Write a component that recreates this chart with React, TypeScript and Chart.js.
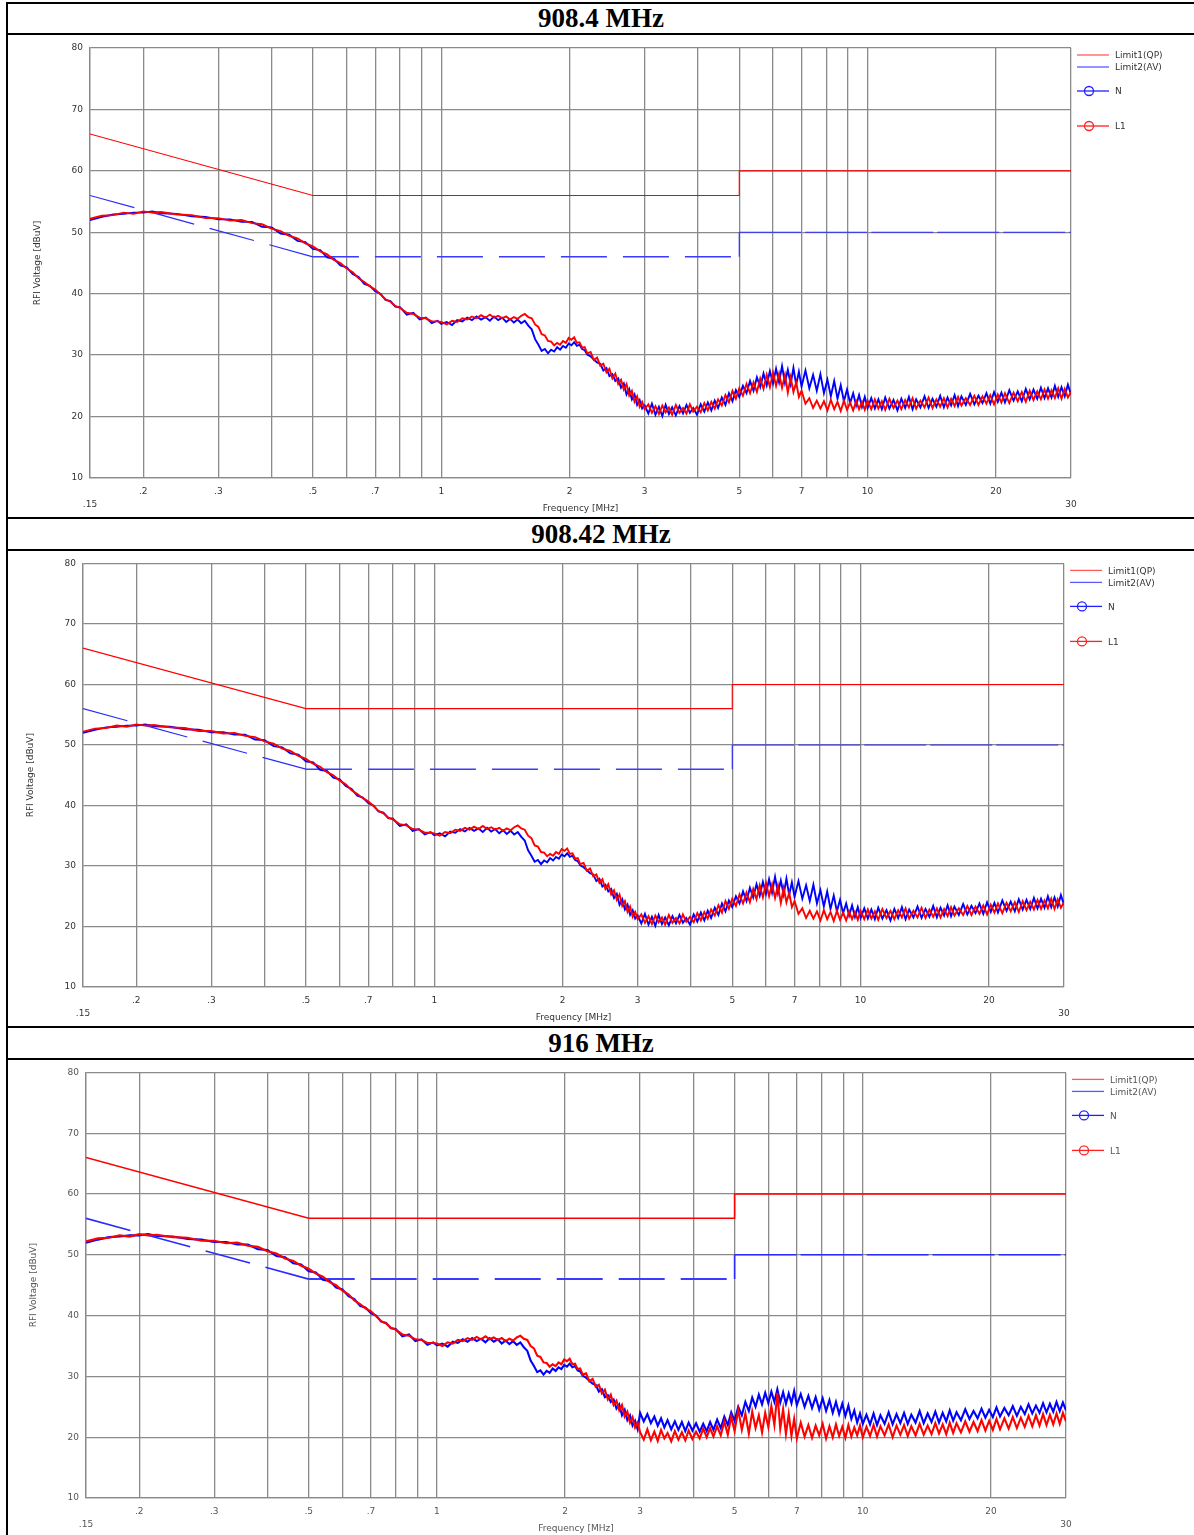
import React, { useEffect, useRef } from "react";
import { Chart, registerables } from "chart.js";
Chart.register(...registerables);

// ---------------- DATA ----------------
const titles = ["908.4 MHz", "908.42 MHz", "916 MHz"];
const legendLabels = ["Limit1(QP)", "Limit2(AV)", "N", "L1"];
const xAxisTitle = "Frequency [MHz]";
const yAxisTitle = "RFI Voltage [dBuV]";

const xTickValues = [0.15, 0.2, 0.3, 0.4, 0.5, 0.6, 0.7, 0.8, 0.9, 1, 2, 3, 4, 5, 6, 7, 8, 9, 10, 20, 30];
const xMainLabelValues = [0.2, 0.3, 0.5, 0.7, 1, 2, 3, 5, 7, 10, 20];
const xMainLabelTexts = [".2", ".3", ".5", ".7", "1", "2", "3", "5", "7", "10", "20"];
const xEndLabelValues = [0.15, 30];
const xEndLabelTexts = [".15", "30"];
const yMin = 10;
const yMax = 80;
const yStep = 10;

// limit lines
const qpFreq = [0.15, 0.5, 5, 5, 30];
const qpLevel = [66, 56, 56, 60, 60];
const avSlopeFreq = [0.15, 0.5];
const avSlopeLevel = [56, 46];
const avFlatFreq = [0.5, 5];
const avFlatLevel = [46, 46];
const avStepFreq = [5, 5];
const avStepLevel = [46, 50];
const avHighFreq = [5, 30];
const avHighLevel = [50, 50];

// measurement frequencies (MHz)
const freqLow = [
  0.15, 0.16, 0.17, 0.18, 0.19, 0.2, 0.21, 0.22, 0.24, 0.26, 0.28, 0.3, 0.32, 0.34, 0.36, 0.38, 0.4, 0.42, 0.44, 0.46, 0.48, 0.5,
  0.52, 0.54, 0.56, 0.58, 0.6, 0.62, 0.64, 0.66, 0.68, 0.7, 0.72, 0.74, 0.76, 0.78, 0.8, 0.83, 0.86, 0.89, 0.92, 0.95, 0.98,
  1, 1.03, 1.06, 1.09, 1.12, 1.15, 1.18, 1.21, 1.24, 1.27, 1.3, 1.33, 1.36, 1.39, 1.42, 1.45, 1.48, 1.51, 1.54, 1.57,
  1.6, 1.63, 1.66, 1.69, 1.72, 1.75, 1.78, 1.81, 1.84, 1.87, 1.9, 1.93, 1.96, 1.99, 2.02, 2.05, 2.08, 2.11, 2.14, 2.17,
  2.2, 2.24, 2.28, 2.32, 2.36, 2.4, 2.44, 2.48, 2.52, 2.56, 2.6, 2.64, 2.68, 2.72, 2.76, 2.8, 2.84, 2.88, 2.92, 2.96,
];
const freqHigh = [
  3, 3.06, 3.12, 3.18, 3.24, 3.3, 3.36, 3.42, 3.48, 3.55, 3.62, 3.69, 3.76, 3.83, 3.9, 3.98, 4.06, 4.14, 4.22, 4.3,
  4.38, 4.46, 4.55, 4.64, 4.73, 4.82, 4.91, 5, 5.1, 5.2, 5.3, 5.4, 5.5, 5.6, 5.7, 5.8, 5.9, 6,
  6.1, 6.2, 6.3, 6.4, 6.5, 6.6, 6.7, 6.8, 6.9, 7, 7.15, 7.3, 7.45, 7.6, 7.75, 7.9, 8.05, 8.2, 8.35, 8.5,
  8.65, 8.8, 8.95, 9.1, 9.25, 9.4, 9.55, 9.7, 9.85, 10, 10.2, 10.4, 10.6, 10.8, 11, 11.25, 11.5, 11.75, 12, 12.25,
  12.5, 12.75, 13, 13.3, 13.6, 13.9, 14.2, 14.5, 14.8, 15.1, 15.4, 15.7, 16, 16.3, 16.6, 17, 17.4, 17.8, 18.2, 18.6,
  19, 19.4, 19.8, 20.2, 20.6, 21, 21.5, 22, 22.5, 23, 23.5, 24, 24.5, 25, 25.5, 26, 26.5, 27, 27.5, 28,
  28.5, 29, 29.5, 30,
];

// 908 MHz runs: 0.15 - 3 MHz
const l1908Low = [
  52.2, 52.7, 52.8, 53.2, 53.0, 53.4, 53.2, 53.3, 52.9, 52.8, 52.3, 52.3, 51.9, 52.0, 51.5, 51.3, 50.6, 50.2, 49.4, 49.0, 48.2, 47.7,
  46.9, 46.4, 45.5, 45.0, 44.1, 43.5, 42.5, 41.9, 41.2, 40.7, 39.9, 39.1, 38.7, 38.0, 37.7, 36.9, 36.7, 36.1, 36.0, 35.5, 35.5,
  35.4, 35.0, 35.6, 35.4, 36.0, 35.8, 36.3, 36.0, 36.5, 36.1, 36.6, 36.1, 36.4, 36.0, 36.3, 35.8, 36.2, 35.9, 36.4, 36.7,
  36.2, 36.0, 35.0, 34.6, 33.4, 33.2, 32.3, 32.2, 31.6, 32.0, 31.7, 32.3, 32.0, 32.8, 32.5, 32.9, 32.0, 32.1, 31.2, 31.3,
  30.3, 30.5, 29.2, 29.6, 28.3, 28.6, 27.2, 27.8, 26.2, 27.0, 25.3, 26.0, 24.4, 25.3, 23.4, 24.2, 22.4, 23.3, 21.6, 22.4,
];
const n908Low = [
  52.0, 52.5, 52.9, 53.0, 53.2, 53.2, 53.4, 53.1, 53.0, 52.6, 52.5, 52.1, 52.1, 51.7, 51.7, 50.9, 50.8, 49.8, 49.6, 48.6, 48.4, 47.3,
  47.1, 45.9, 45.7, 44.6, 44.3, 43.2, 42.7, 41.6, 41.3, 40.4, 40.0, 39.0, 38.8, 37.9, 37.8, 36.6, 36.9, 35.8, 36.1, 35.2, 35.6,
  35.1, 35.4, 34.9, 35.7, 35.5, 36.1, 35.7, 36.3, 35.8, 36.2, 35.6, 36.3, 35.7, 36.1, 35.4, 35.9, 35.3, 35.8, 35.2, 35.6,
  34.8, 34.2, 32.6, 31.7, 30.7, 31.0, 30.3, 30.9, 30.6, 31.3, 30.9, 31.5, 31.2, 31.9, 31.6, 32.1, 31.5, 31.7, 31.0, 30.8,
  30.1, 29.8, 29.3, 28.8, 28.6, 27.5, 27.9, 26.6, 26.9, 25.8, 26.2, 24.7, 25.4, 23.6, 24.5, 22.8, 23.6, 21.9, 22.7, 21.3,
];
// 908 MHz runs: 3 - 30 MHz
const l1908High = [
  21.2, 22.0, 20.6, 21.7, 20.4, 21.8, 20.7, 21.5, 20.3, 21.9, 20.6, 21.4, 20.5, 22.0, 20.8, 21.6, 20.7, 22.2, 21.0, 22.4,
  21.3, 22.8, 21.8, 23.5, 22.3, 24.2, 22.9, 24.6, 23.4, 25.3, 23.8, 25.6, 24.0, 26.2, 24.5, 26.8, 24.8, 27.2,
  25.0, 27.0, 24.7, 26.8, 23.9, 26.4, 24.0, 25.6, 23.2, 24.2, 22.1, 23.0, 21.4, 22.6, 21.3, 22.5, 21.0, 22.7, 21.2, 22.4,
  20.9, 22.6, 21.1, 22.3, 21.0, 22.5, 21.2, 22.4, 21.1, 22.6, 21.2, 22.8, 21.3, 22.5, 21.1, 22.9, 21.4, 22.6, 21.2, 22.7,
  21.5, 23.0, 21.3, 22.6, 21.5, 23.1, 21.4, 22.8, 21.6, 23.0, 21.5, 22.9, 21.7, 23.2, 21.8, 23.0, 21.9, 23.4, 21.9, 23.3,
  22.1, 23.5, 22.0, 23.6, 22.3, 23.8, 22.2, 23.9, 22.5, 24.0, 22.4, 24.2, 22.7, 24.1, 22.8, 24.4, 22.9, 24.3, 23.0, 24.6,
  22.9, 24.5, 23.1, 24.0,
];
const n908High = [
  21.8, 20.5, 22.1, 20.3, 21.6, 20.1, 21.9, 20.4, 21.5, 20.2, 21.7, 20.5, 21.9, 20.6, 21.4, 20.3, 22.0, 20.8, 22.3, 21.0,
  22.6, 21.4, 23.1, 21.9, 23.8, 22.5, 24.3, 23.2, 25.0, 23.8, 25.8, 24.2, 26.4, 24.8, 27.0, 25.1, 27.4, 25.4,
  27.8, 25.6, 28.2, 25.5, 27.6, 25.3, 27.9, 25.2, 27.3, 24.9, 27.5, 24.6, 26.8, 24.2, 26.9, 23.8, 26.0, 23.3, 25.8, 22.9,
  25.1, 22.5, 24.4, 22.2, 23.8, 21.8, 23.5, 21.6, 23.2, 21.4, 23.0, 21.3, 22.8, 21.2, 23.1, 21.3, 22.7, 21.0, 22.9, 21.4,
  23.2, 21.2, 22.8, 21.5, 23.3, 21.4, 22.9, 21.6, 23.4, 21.5, 23.1, 21.8, 23.5, 21.7, 23.3, 21.9, 23.7, 22.0, 23.4, 22.2,
  23.8, 22.1, 24.0, 22.4, 23.9, 22.3, 24.3, 22.6, 24.1, 22.5, 24.5, 22.8, 24.4, 22.9, 24.7, 23.0, 24.6, 23.1, 25.0, 23.2,
  24.8, 23.3, 25.2, 23.6,
];
// 916 MHz run: 3 - 30 MHz
const l1916High = [
  20.8, 19.6, 21.3, 19.5, 20.9, 19.4, 21.2, 19.8, 20.7, 19.3, 21.0, 19.6, 20.8, 19.5, 21.1, 19.7, 20.9, 19.8, 21.4, 20.0,
  21.5, 20.1, 21.8, 20.3, 22.6, 20.4, 23.4, 21.0, 24.5, 21.2, 23.9, 20.6, 24.2, 21.5, 23.6, 20.8, 24.0, 21.7,
  25.1, 22.0, 27.3, 21.4, 24.6, 20.5, 23.8, 20.2, 23.0, 19.8, 22.4, 20.1, 22.0, 19.9, 21.9, 20.3, 22.2, 19.8, 21.8, 20.0,
  22.1, 20.2, 21.7, 19.9, 22.0, 20.1, 21.6, 20.3, 21.9, 20.0, 21.7, 20.2, 22.0, 20.1, 21.8, 20.3, 22.1, 20.0, 21.9, 20.4,
  22.0, 20.2, 21.8, 20.3, 22.2, 20.4, 21.9, 20.5, 22.3, 20.6, 22.1, 20.5, 22.4, 20.7, 22.3, 20.8, 22.6, 20.9, 22.5, 21.0,
  22.8, 21.1, 22.7, 21.2, 23.0, 21.3, 23.1, 21.4, 23.3, 21.5, 23.2, 21.7, 23.5, 21.8, 23.6, 21.9, 23.8, 22.0, 23.7, 22.1,
  23.9, 22.2, 24.0, 22.6,
];
const n916High = [
  24.0, 22.6, 23.8, 22.3, 23.4, 21.9, 23.1, 21.6, 22.8, 21.3, 22.6, 21.2, 22.5, 21.0, 22.4, 21.1, 22.3, 20.9, 22.2, 21.0,
  22.5, 21.2, 22.9, 21.5, 23.4, 22.0, 24.1, 22.7, 25.0, 23.6, 25.8, 24.3, 26.5, 25.0, 27.0, 25.4, 27.3, 25.6,
  27.5, 25.8, 27.9, 25.7, 27.4, 25.5, 27.2, 25.6, 27.6, 25.3, 27.1, 25.0, 26.8, 24.8, 26.6, 24.5, 26.4, 24.3, 26.1, 24.0,
  25.8, 23.8, 25.5, 23.5, 25.2, 23.0, 24.4, 22.4, 23.9, 22.2, 23.7, 22.1, 23.9, 22.0, 23.6, 22.2, 24.1, 22.1, 23.8, 22.3,
  24.0, 22.2, 23.7, 22.4, 24.3, 22.3, 23.9, 22.5, 24.2, 22.4, 24.0, 22.6, 24.4, 22.7, 24.1, 22.8, 24.6, 23.0, 24.3, 23.1,
  24.7, 23.2, 24.5, 23.3, 24.9, 23.4, 24.8, 23.6, 25.1, 23.5, 25.0, 23.8, 25.4, 23.9, 25.2, 24.0, 25.6, 24.1, 25.5, 24.2,
  25.8, 24.3, 25.7, 24.4,
];

// ---------------- LAYOUT ----------------
const PAGE_W = 1194;
const PAGE_H = 1535;
const GRID = "#8a8a8a";

type PanelCfg = {
  title: string;
  rowTop: number;
  rowHeight: number;
  canvasTop: number;
  canvasHeight: number;
  left: number;
  top: number;
  right: number;
  bottom: number;
  textColor: string;
  traceWidth: number;
  limitWidth: number;
  n: number[];
  l1: number[];
};

const panels: PanelCfg[] = [
  {
    title: titles[0], rowTop: 4, rowHeight: 29, canvasTop: 35, canvasHeight: 482,
    left: 90, top: 48, right: 1071, bottom: 478, textColor: "#333333", traceWidth: 1.9, limitWidth: 1.1,
    n: n908Low.concat(n908High), l1: l1908Low.concat(l1908High),
  },
  {
    title: titles[1], rowTop: 519, rowHeight: 30, canvasTop: 551, canvasHeight: 475,
    left: 83, top: 557, right: 1064, bottom: 987, textColor: "#333333", traceWidth: 1.9, limitWidth: 1.1,
    n: n908Low.concat(n908High), l1: l1908Low.concat(l1908High),
  },
  {
    title: titles[2], rowTop: 1028, rowHeight: 30, canvasTop: 1060, canvasHeight: 475,
    left: 86, top: 1068, right: 1066, bottom: 1498, textColor: "#555555", traceWidth: 2.1, limitWidth: 1.6,
    n: n908Low.concat(n916High), l1: l1908Low.concat(l1916High),
  },
];

const hLines = [2, 33, 517, 549, 1026, 1058];

Chart.defaults.font.family = "'DejaVu Sans', sans-serif";
Chart.defaults.font.size = 9;

function ChartPanel({ p }: { p: PanelCfg }) {
  const ref = useRef<HTMLCanvasElement | null>(null);
  useEffect(() => {
    const canvas = ref.current;
    if (!canvas) return;
    const freq = freqLow.concat(freqHigh);
    const pts = (vals: number[]) =>
      freq.map((f, i) => ({ x: f, y: vals[i] })).filter((d) => d.y !== undefined);
    const seg = (xs: number[], ys: number[]) => xs.map((x, i) => ({ x, y: ys[i] }));
    const common = { pointRadius: 0, tension: 0, fill: false };

    const decor = {
      id: "decor",
      afterDraw(chart: any) {
        const ctx = chart.ctx;
        const xs = chart.scales.x;
        const a = chart.chartArea;
        ctx.save();
        ctx.fillStyle = p.textColor;
        ctx.font = "9px 'DejaVu Sans'";
        ctx.textAlign = "center";
        ctx.textBaseline = "middle";
        xMainLabelValues.forEach((v, i) => ctx.fillText(xMainLabelTexts[i], xs.getPixelForValue(v), a.bottom + 14));
        xEndLabelValues.forEach((v, i) => ctx.fillText(xEndLabelTexts[i], xs.getPixelForValue(v), a.bottom + 27));
        ctx.fillText(xAxisTitle, (a.left + a.right) / 2, a.bottom + 31);
        ctx.save();
        ctx.translate(a.left - 52, (a.top + a.bottom) / 2);
        ctx.rotate(-Math.PI / 2);
        ctx.fillText(yAxisTitle, 0, 0);
        ctx.restore();
        // legend
        const rows = [
          { text: legendLabels[0], color: "#ff5a5a", dy: 7, marker: false },
          { text: legendLabels[1], color: "#5a5aff", dy: 19, marker: false },
          { text: legendLabels[2], color: "#2020ff", dy: 43, marker: true },
          { text: legendLabels[3], color: "#ff2020", dy: 78, marker: true },
        ];
        rows.forEach((r) => {
          const y = a.top + r.dy;
          ctx.strokeStyle = r.color;
          ctx.lineWidth = 1.3;
          ctx.beginPath();
          ctx.moveTo(a.right + 6, y);
          ctx.lineTo(a.right + 38, y);
          ctx.stroke();
          if (r.marker) {
            ctx.beginPath();
            ctx.arc(a.right + 18, y, 4.5, 0, Math.PI * 2);
            ctx.stroke();
          }
          ctx.fillStyle = p.textColor;
          ctx.textAlign = "left";
          ctx.fillText(r.text, a.right + 44, y + 1);
        });
        ctx.restore();
      },
    };

    const chart = new Chart(canvas, {
      type: "line",
      data: {
        datasets: [
          { label: legendLabels[3], data: pts(p.l1), borderColor: "#ff0000", borderWidth: p.traceWidth, ...common },
          { label: legendLabels[2], data: pts(p.n), borderColor: "#0000ff", borderWidth: p.traceWidth, ...common },
          { label: legendLabels[0], data: seg(qpFreq, qpLevel), borderColor: "#ff0000", borderWidth: p.limitWidth, ...common },
          { label: legendLabels[1], data: seg(avSlopeFreq, avSlopeLevel), borderColor: "#2b2bff", borderWidth: p.limitWidth, borderDash: [46, 16], ...common },
          { label: legendLabels[1], data: seg(avFlatFreq, avFlatLevel), borderColor: "#3b3bff", borderWidth: p.limitWidth + 0.4, borderDash: [46, 16], ...common },
          { label: legendLabels[1], data: seg(avStepFreq, avStepLevel), borderColor: "#2b2bff", borderWidth: p.limitWidth, ...common },
          { label: legendLabels[1], data: seg(avHighFreq, avHighLevel), borderColor: "#2b2bff", borderWidth: p.limitWidth, borderDash: [62, 4], ...common },
        ],
      },
      options: {
        responsive: false,
        animation: false,
        events: [],
        layout: { padding: { left: 0, top: p.top - p.canvasTop, right: PAGE_W - p.right, bottom: 0 } },
        plugins: { legend: { display: false }, tooltip: { enabled: false } },
        scales: {
          x: {
            type: "logarithmic",
            min: 0.15,
            max: 30,
            afterBuildTicks: (s: any) => {
              s.ticks = xTickValues.map((v) => ({ value: v }));
            },
            afterFit: (s: any) => {
              s.height = p.canvasTop + p.canvasHeight - p.bottom;
            },
            ticks: { display: false },
            grid: { color: GRID, lineWidth: 1.3, drawTicks: false },
            border: { display: true, color: GRID, width: 1.3 },
          },
          y: {
            type: "linear",
            min: yMin,
            max: yMax,
            ticks: { stepSize: yStep, padding: 7, color: p.textColor, font: { size: 9, family: "'DejaVu Sans'" } },
            afterFit: (s: any) => {
              s.width = p.left;
            },
            grid: { color: GRID, lineWidth: 1.3, drawTicks: false },
            border: { display: true, color: GRID, width: 1.3 },
          },
        },
      } as any,
      plugins: [decor],
    } as any);
    return () => chart.destroy();
  }, [p]);

  return (
    <canvas
      ref={ref}
      width={PAGE_W}
      height={p.canvasHeight}
      style={{ position: "absolute", left: 0, top: p.canvasTop, width: PAGE_W, height: p.canvasHeight }}
    />
  );
}

export default function App() {
  return (
    <div style={{ position: "absolute", left: 0, top: 0, width: PAGE_W, height: PAGE_H, background: "#ffffff", overflow: "hidden" }}>
      {panels.map((p, i) => (
        <div
          key={"t" + i}
          style={{
            position: "absolute",
            left: 8,
            width: PAGE_W - 8,
            top: p.rowTop,
            height: p.rowHeight,
            lineHeight: p.rowHeight + "px",
            textAlign: "center",
            fontFamily: "'Liberation Serif', serif",
            fontWeight: "bold",
            fontSize: 27,
            color: "#000",
          }}
        >
          {p.title}
        </div>
      ))}
      {panels.map((p, i) => (
        <ChartPanel key={"c" + i} p={p} />
      ))}
      {hLines.map((y, i) => (
        <div key={"h" + i} style={{ position: "absolute", left: 6, top: y, width: PAGE_W - 6, height: 2, background: "#000" }} />
      ))}
      <div style={{ position: "absolute", left: 6, top: 2, width: 2, height: PAGE_H - 2, background: "#000" }} />
    </div>
  );
}
